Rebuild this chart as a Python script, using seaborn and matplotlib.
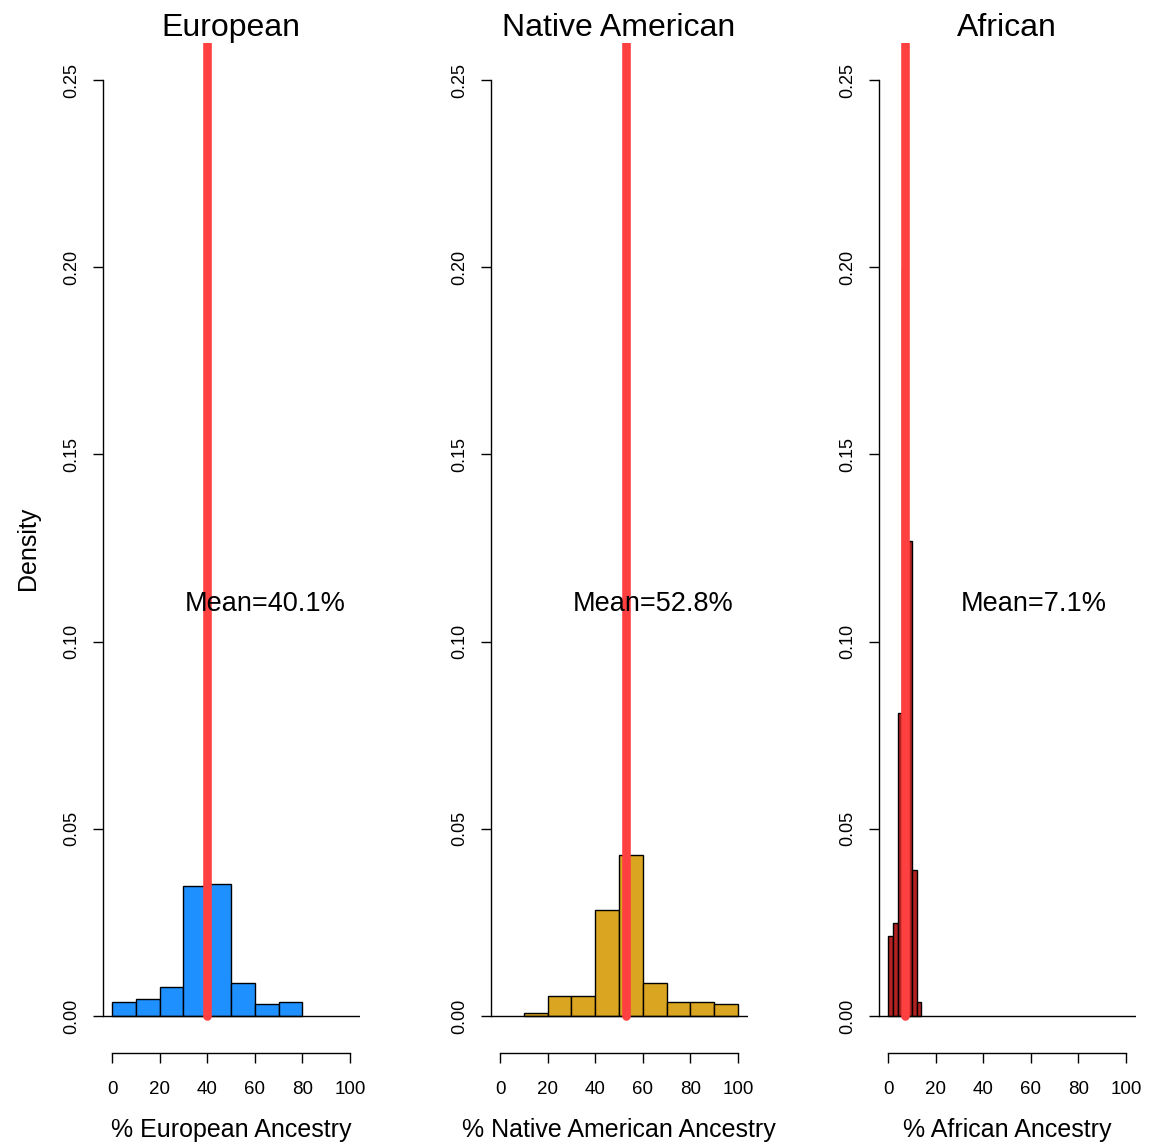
import numpy as np
import pandas as pd
import matplotlib
matplotlib.use("Agg")
import matplotlib.pyplot as plt
import seaborn as sns

sns.set_style("ticks")
plt.rcParams['font.family'] = ['Liberation Sans', 'DejaVu Sans']
plt.rcParams['text.color'] = 'black'
plt.rcParams['axes.labelcolor'] = 'black'
plt.rcParams['xtick.color'] = 'black'
plt.rcParams['ytick.color'] = 'black'

# ---- data ----
panel_titles = ["European", "Native American", "African"]
x_labels = ["% European Ancestry", "% Native American Ancestry", "% African Ancestry"]
means = [40.1, 52.8, 7.1]

eur_edges = [0, 10, 20, 30, 40, 50, 60, 70, 80]
eur_density = [0.0037, 0.0045, 0.0078, 0.0347, 0.0352, 0.0087, 0.0031, 0.0037]

nat_edges = [10, 20, 30, 40, 50, 60, 70, 80, 90, 100]
nat_density = [0.0009, 0.0052, 0.0052, 0.0282, 0.0430, 0.0087, 0.0036, 0.0036, 0.0032]

afr_edges = [0, 2, 4, 6, 8, 10, 12, 14]
afr_density = [0.0214, 0.0249, 0.0810, 0.2000, 0.1270, 0.0390, 0.0038]

bar_colors = ["#1E90FF", "#DAA520", "#B22222"]
mean_color = "#FF4040"

y_ticks = [0.00, 0.05, 0.10, 0.15, 0.20, 0.25]
x_ticks = [0, 20, 40, 60, 80, 100]

edges_list = [eur_edges, nat_edges, afr_edges]
dens_list = [eur_density, nat_density, afr_density]

W, H = 1159, 1142
fig = plt.figure(figsize=(W / 100, H / 100), dpi=100)

lefts_px = [102.5, 490.5, 878.5]
ax_w = 257 / W
ax_b = 1 - 1053.4 / H
ax_h = (1053.4 - 42.6) / H

for i in range(3):
    ax = fig.add_axes([lefts_px[i] / W, ax_b, ax_w, ax_h])
    edges = list(edges_list[i])
    centers = [(edges[k] + edges[k + 1]) / 2 for k in range(len(edges) - 1)]
    df = pd.DataFrame({"x": centers, "w": dens_list[i]})
    sns.histplot(data=df, x="x", weights="w", bins=edges, stat="count",
                 color=bar_colors[i], alpha=1, edgecolor="black", linewidth=1.0, ax=ax)
    ax.axhline(0, color="black", lw=1.0, zorder=3)
    vl = ax.vlines(means[i], 0, 0.3, color=mean_color, lw=6.2, zorder=4)
    vl.set_capstyle("round")
    ax.text(30.5, 0.11, f"Mean={means[i]}%", ha="left", va="center", fontsize=19.5,
            color="black", zorder=5)

    ax.set_xlim(-4, 104)
    ax.set_ylim(-0.01, 0.26)
    sns.despine(ax=ax)
    ax.spines['left'].set_bounds(0, 0.25)
    ax.spines['bottom'].set_bounds(0, 100)
    for s in ['left', 'bottom']:
        ax.spines[s].set_linewidth(1.0)
        ax.spines[s].set_color("black")
    ax.set_xticks(x_ticks)
    ax.set_xticklabels([str(t) for t in x_ticks], fontsize=13.5)
    ax.set_yticks(y_ticks)
    ax.set_yticklabels([f"{t:.2f}" for t in y_ticks], fontsize=13, rotation=90, va="center")
    ax.tick_params(axis='both', length=7, width=1.0, color="black", labelcolor="black")
    ax.tick_params(axis='x', pad=13)
    ax.tick_params(axis='y', pad=9)
    ax.set_xlabel(x_labels[i], fontsize=18, labelpad=14, color="black")
    if i == 0:
        ax.set_ylabel("Density", fontsize=18, labelpad=17, color="black")
    else:
        ax.set_ylabel("")
    ax.set_title(panel_titles[i], fontsize=23, pad=2, color="black")
    ax.grid(False)

fig.savefig("out.png", dpi=100)
